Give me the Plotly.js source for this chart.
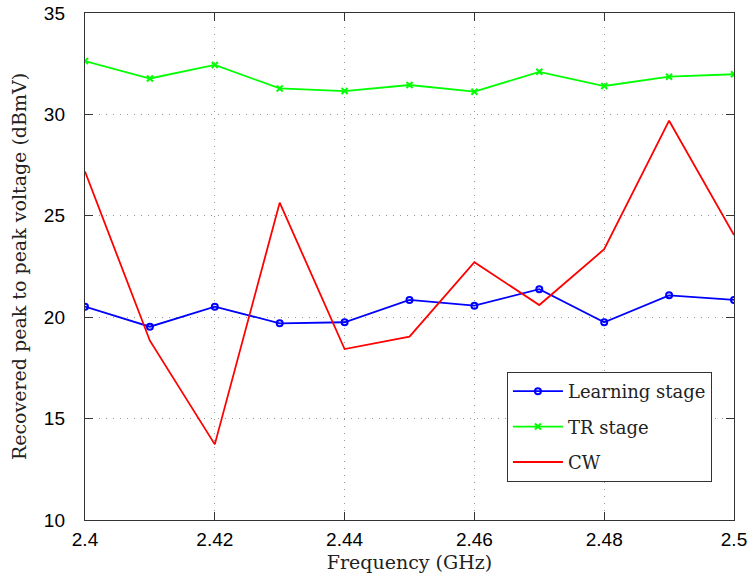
<!DOCTYPE html>
<html>
<head>
<meta charset="utf-8">
<script src="https://cdn.plot.ly/plotly-3.0.1.min.js"></script>
<style>html,body{margin:0;padding:0;background:#fff;}#chart{width:751px;height:583px;}</style>
</head>
<body>
<div id="chart"></div>
<script>
const freq = [2.40, 2.41, 2.42, 2.43, 2.44, 2.45, 2.46, 2.47, 2.48, 2.49, 2.50];
const learningStage = [20.52, 19.53, 20.52, 19.70, 19.75, 20.85, 20.57, 21.38, 19.75, 21.08, 20.85];
const trStage = [32.63, 31.77, 32.44, 31.28, 31.15, 31.45, 31.12, 32.10, 31.40, 31.86, 31.98];
const cw = [27.18, 18.84, 13.73, 25.65, 18.43, 19.04, 22.71, 20.60, 23.35, 29.69, 24.05];
const xTicks = [2.40, 2.42, 2.44, 2.46, 2.48, 2.50];
const xTickLabels = ["2.4", "2.42", "2.44", "2.46", "2.48", "2.5"];
const yTicks = [10, 15, 20, 25, 30, 35];

const serif = "DejaVu Serif, serif";
const sans = "Liberation Sans, Arial, sans-serif";

const traces = [
  {x: freq, y: learningStage, name: "Learning stage", legendgroup: "a", type: "scatter", mode: "lines+markers",
   line: {color: "#0000ff", width: 1.8},
   marker: {symbol: "circle-open", size: 6, color: "#0000ff", line: {width: 2, color: "#0000ff"}}},
  {x: freq, y: trStage, name: "TR stage", legendgroup: "b", type: "scatter", mode: "lines+markers",
   line: {color: "#00ff00", width: 1.8},
   marker: {symbol: "x-thin-open", size: 6, color: "#00ff00", line: {width: 2, color: "#00ff00"}}},
  {x: freq, y: cw, name: "CW", legendgroup: "c", type: "scatter", mode: "lines",
   line: {color: "#ff0000", width: 1.8}}
];

const layout = {
  width: 751, height: 583,
  margin: {l: 85, r: 17, t: 13, b: 63},
  paper_bgcolor: "#ffffff", plot_bgcolor: "#ffffff",
  showlegend: true,
  xaxis: {
    range: [2.4, 2.5], tickmode: "array", tickvals: xTicks, ticktext: xTickLabels,
    ticks: "inside", ticklen: 8, tickcolor: "#333", showline: true, mirror: "ticks",
    linecolor: "#333", linewidth: 1.2, zeroline: false,
    showgrid: true, gridcolor: "#999999", griddash: "1px,6px", gridwidth: 1,
    tickfont: {family: sans, size: 19, color: "#000"}, ticklabelstandoff: 2,
    title: {text: "Frequency (GHz)", font: {family: serif, size: 19, color: "#222"}, standoff: 6}
  },
  yaxis: {
    range: [10, 35], tickmode: "array", tickvals: yTicks,
    ticks: "inside", ticklen: 8, tickcolor: "#333", showline: true, mirror: "ticks",
    linecolor: "#333", linewidth: 1.2, zeroline: false,
    showgrid: true, gridcolor: "#999999", griddash: "1px,6px", gridwidth: 1,
    tickfont: {family: sans, size: 19, color: "#000"}, ticklabelstandoff: 15,
    title: {text: "Recovered peak to peak voltage (dBmV)", font: {family: serif, size: 19, color: "#222"}, standoff: 12}
  },
  legend: {
    x: 0.966, y: 0.075, xanchor: "right", yanchor: "bottom",
    bgcolor: "#ffffff", bordercolor: "#333", borderwidth: 1,
    font: {family: serif, size: 18, color: "#222"},
    traceorder: "grouped", tracegroupgap: 9, itemwidth: 50
  }
};

Plotly.newPlot("chart", traces, layout, {displayModeBar: false, staticPlot: true});
</script>
</body>
</html>
